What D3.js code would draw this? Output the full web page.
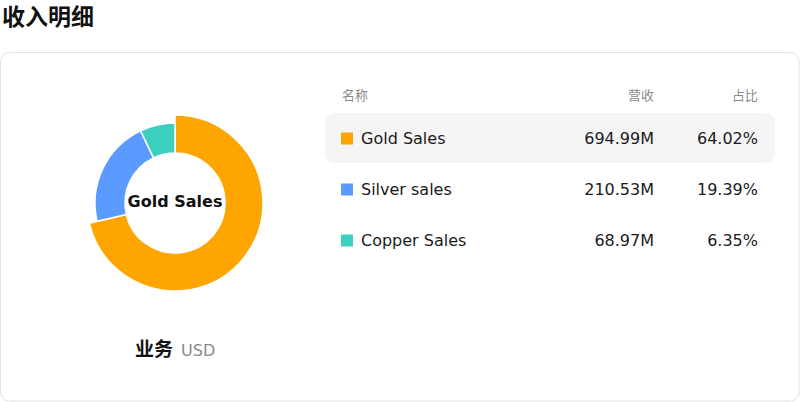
<!DOCTYPE html>
<html>
<head>
<meta charset="utf-8">
<script src="https://cdn.jsdelivr.net/npm/d3@7"></script>
<style>
  html, body { margin: 0; padding: 0; background: #fff; }
  svg { display: block; font-family: "DejaVu Sans", "Noto Sans CJK SC", sans-serif; }
</style>
</head>
<body>
<svg id="chart"></svg>
<script>
// 数据
const names = ["Gold Sales", "Silver sales", "Copper Sales"];
const revenues = [694.99, 210.53, 68.97];
const shares = [64.02, 19.39, 6.35];
const colors = ["#FFA500", "#5B9AFF", "#3ACFBF"];
const headers = ["名称", "营收", "占比"];
const activeIndex = 0;

const width = 800;
const height = 402;
const cjk = "'Noto Sans CJK SC', sans-serif";

const svg = d3.select("#chart").attr("width", width).attr("height", height);

// 标题
svg.append("text")
  .attr("x", 2).attr("y", 25)
  .style("font-family", cjk)
  .style("font-size", "23px")
  .style("font-weight", "bold")
  .attr("fill", "#111")
  .text("收入明细");

// 卡片
svg.append("rect")
  .attr("x", 0.5).attr("y", 52.5)
  .attr("width", 798.5).attr("height", 348.5)
  .attr("rx", 9)
  .attr("fill", "#fff")
  .attr("stroke", "#e2e0ea");

// 环形图
const data = names.map((n, i) => ({name: n, value: revenues[i], color: colors[i]}));
const arcs = d3.pie().sort(null).value(d => d.value)(data);
const arc = d3.arc().innerRadius(50);
const g = svg.append("g").attr("transform", "translate(175,203)");

g.selectAll("path").data(arcs).enter()
  .append("path")
  .attr("fill", d => d.data.color)
  .attr("stroke", "#fff")
  .attr("stroke-width", 1.5)
  .attr("d", (d, i) => arc.outerRadius(i === activeIndex ? 88 : 80)(d));

g.append("text")
  .attr("text-anchor", "middle")
  .attr("y", 4)
  .style("font-size", "16px")
  .style("font-weight", "bold")
  .attr("fill", "#111")
  .text(names[activeIndex]);

// 底部标签
const foot = svg.append("text").attr("x", 135).attr("y", 356);
foot.append("tspan")
  .style("font-family", cjk)
  .style("font-size", "19px")
  .style("font-weight", "bold")
  .attr("fill", "#111")
  .text("业务");
foot.append("tspan")
  .attr("dx", 8)
  .style("font-size", "16px")
  .attr("fill", "#8a8a8a")
  .text("USD");

// 表格
const colX = [342, 654, 758];
const rowY = d3.scaleBand().domain(d3.range(names.length)).range([113, 266]);

const header = svg.append("g");
header.selectAll("text").data(headers).enter()
  .append("text")
  .attr("x", (d, i) => colX[i])
  .attr("y", 100)
  .attr("text-anchor", (d, i) => i === 0 ? "start" : "end")
  .style("font-family", cjk)
  .style("font-size", "13px")
  .attr("fill", "#8a8a8a")
  .text(d => d);

const rows = svg.selectAll("g.row").data(data).enter()
  .append("g")
  .attr("class", "row")
  .attr("transform", (d, i) => `translate(0,${rowY(i)})`);

rows.filter((d, i) => i === activeIndex)
  .append("rect")
  .attr("x", 325).attr("y", 0)
  .attr("width", 450).attr("height", rowY.bandwidth() - 1)
  .attr("rx", 9)
  .attr("fill", "#f5f5f5");

const mid = rowY.bandwidth() / 2;

rows.append("rect")
  .attr("x", 341).attr("y", mid - 6)
  .attr("width", 12).attr("height", 12)
  .attr("fill", d => d.color);

rows.append("text")
  .attr("x", 361).attr("y", mid + 5.5)
  .style("font-size", "16px")
  .attr("fill", "#1a1a1a")
  .text(d => d.name);

rows.append("text")
  .attr("x", colX[1]).attr("y", mid + 5.5)
  .attr("text-anchor", "end")
  .style("font-size", "16px")
  .attr("fill", "#1a1a1a")
  .text(d => d.value.toFixed(2) + "M");

rows.append("text")
  .attr("x", colX[2]).attr("y", mid + 5.5)
  .attr("text-anchor", "end")
  .style("font-size", "16px")
  .attr("fill", "#1a1a1a")
  .text((d, i) => shares[i].toFixed(2) + "%");
</script>
</body>
</html>
